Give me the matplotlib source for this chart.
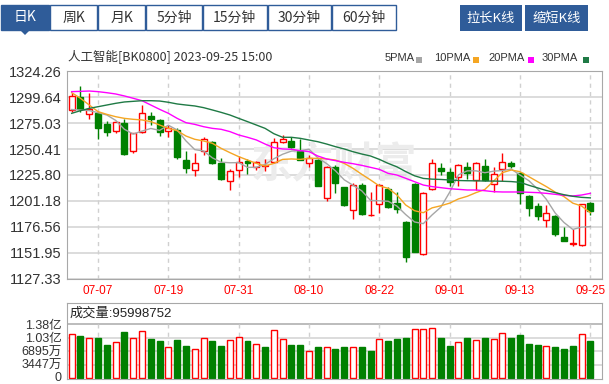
import matplotlib
matplotlib.use("Agg")
import matplotlib.pyplot as plt
import matplotlib.transforms as mtransforms
from matplotlib.patches import Rectangle, Polygon
import pandas as pd

plt.rcParams['font.family'] = ['Liberation Sans', 'Noto Sans CJK SC', 'DejaVu Sans']

# ---- data ----
dates = pd.bdate_range("2023-07-04", "2023-09-25").strftime("%m-%d").tolist()
tick_labels = ["07-07", "07-19", "07-31", "08-10", "08-22", "09-01", "09-13", "09-25"]

opens = [1287.6, 1300.2, 1283.8, 1284.4, 1273.9, 1267.9, 1274.9, 1248.2, 1266.9, 1281.9,
         1278.1, 1267.8, 1268.5, 1240.0, 1230.5, 1248.6, 1257.4, 1236.8, 1220.4, 1230.5,
         1238.6, 1233.0, 1234.6, 1238.4, 1256.8, 1258.1, 1248.6, 1237.5, 1240.0, 1203.6,
         1233.0, 1214.0, 1192.5, 1216.2, 1187.5, 1198.2, 1212.1, 1199.4, 1181.4, 1217.2,
         1150.3, 1212.1, 1232.4, 1228.9, 1223.5, 1233.0, 1221.0, 1234.3, 1217.2, 1231.1,
         1236.8, 1227.9, 1205.8, 1196.3, 1182.9, 1186.8, 1166.5, 1160.1, 1159.2, 1198.8]
highs = [1304.0, 1310.4, 1303.4, 1285.3, 1277.4, 1277.4, 1278.7, 1266.0, 1292.3, 1286.0,
         1278.7, 1273.0, 1270.1, 1248.9, 1247.0, 1261.6, 1258.4, 1241.6, 1231.1, 1243.8,
         1240.6, 1239.4, 1240.6, 1260.6, 1263.8, 1261.6, 1259.7, 1244.8, 1241.0, 1234.3,
         1235.3, 1214.3, 1217.8, 1218.5, 1209.9, 1217.2, 1214.7, 1209.9, 1181.6, 1217.8,
         1209.9, 1240.6, 1236.8, 1232.1, 1236.2, 1238.4, 1238.4, 1240.6, 1233.0, 1247.0,
         1239.1, 1228.9, 1206.7, 1199.4, 1197.2, 1187.7, 1176.6, 1174.1, 1198.2, 1200.4]
lows = [1286.0, 1286.0, 1279.0, 1259.7, 1263.2, 1265.4, 1244.8, 1246.3, 1266.0, 1273.3,
        1262.8, 1262.0, 1241.3, 1228.0, 1224.8, 1244.8, 1236.2, 1221.0, 1211.5, 1224.2,
        1226.7, 1230.5, 1229.9, 1237.5, 1255.9, 1251.7, 1240.0, 1233.7, 1215.0, 1201.3,
        1208.3, 1196.3, 1183.6, 1187.7, 1187.2, 1189.3, 1194.5, 1189.3, 1143.3, 1152.2,
        1150.0, 1211.5, 1225.8, 1215.3, 1215.3, 1221.6, 1211.5, 1220.4, 1209.9, 1220.4,
        1232.1, 1198.2, 1186.8, 1182.9, 1176.6, 1167.7, 1163.0, 1158.6, 1158.2, 1187.7]
closes = [1301.2, 1288.2, 1288.2, 1270.1, 1266.3, 1275.8, 1245.7, 1265.4, 1284.4, 1278.7,
          1266.9, 1270.0, 1242.6, 1232.7, 1237.5, 1260.3, 1237.5, 1221.6, 1229.9, 1238.4,
          1237.5, 1238.1, 1235.0, 1256.8, 1260.0, 1252.7, 1240.0, 1242.2, 1215.3, 1233.0,
          1218.5, 1196.9, 1216.2, 1188.7, 1187.9, 1216.2, 1195.0, 1193.1, 1148.1, 1152.9,
          1208.3, 1236.8, 1229.9, 1219.1, 1235.3, 1227.3, 1236.8, 1221.0, 1226.7, 1238.4,
          1234.3, 1208.3, 1194.1, 1186.8, 1189.3, 1169.6, 1163.3, 1160.8, 1197.9, 1191.8]

ma5 = [1288.0, 1287.5, 1287.0, 1285.0, 1282.8, 1277.7, 1269.2, 1264.7, 1267.5, 1270.0,
       1268.2, 1273.1, 1268.5, 1258.2, 1249.9, 1248.6, 1242.1, 1237.9, 1237.4, 1237.5,
       1233.0, 1233.1, 1235.8, 1241.2, 1245.5, 1248.5, 1248.9, 1250.3, 1242.0, 1236.6,
       1229.8, 1221.2, 1216.0, 1210.7, 1201.6, 1201.2, 1200.8, 1196.2, 1188.1, 1181.1,
       1179.5, 1187.8, 1195.2, 1209.4, 1225.9, 1229.7, 1229.7, 1227.9, 1229.4, 1230.0,
       1231.4, 1225.7, 1220.4, 1212.4, 1202.6, 1189.6, 1180.6, 1174.0, 1176.2, 1176.7]
ma10 = [1304.0, 1298.7, 1292.3, 1286.0, 1283.4, 1281.2, 1279.6, 1278.7, 1278.1, 1276.5,
        1273.3, 1270.1, 1267.9, 1262.8, 1259.7, 1258.1, 1255.9, 1251.1, 1247.0, 1243.2,
        1240.0, 1236.8, 1234.3, 1236.8, 1240.6, 1241.0, 1240.6, 1241.6, 1241.6, 1241.0,
        1240.0, 1236.8, 1232.1, 1226.4, 1221.0, 1215.3, 1213.1, 1206.7, 1197.2, 1191.8,
        1189.9, 1194.5, 1196.5, 1199.0, 1203.0, 1205.5, 1209.0, 1212.0, 1220.0, 1228.0,
        1230.5, 1228.9, 1224.2, 1219.4, 1214.7, 1209.5, 1205.2, 1199.0, 1196.3, 1189.9]
ma20 = [1305.0, 1305.3, 1305.6, 1305.0, 1304.0, 1302.8, 1300.9, 1298.7, 1296.4, 1292.3,
        1288.2, 1284.4, 1279.6, 1275.5, 1273.9, 1271.7, 1270.1, 1269.2, 1267.0, 1263.8,
        1261.6, 1259.1, 1255.2, 1251.7, 1250.5, 1250.2, 1248.9, 1248.0, 1243.8, 1241.0,
        1239.4, 1237.8, 1236.5, 1234.9, 1233.0, 1231.1, 1227.3, 1225.7, 1222.6, 1219.4,
        1216.2, 1214.7, 1213.7, 1212.7, 1212.1, 1211.5, 1211.5, 1210.8, 1209.9, 1209.6,
        1209.6, 1209.6, 1209.3, 1209.0, 1208.3, 1207.4, 1206.4, 1205.8, 1206.7, 1208.3]
ma30 = [1284.4, 1286.9, 1289.1, 1290.7, 1292.3, 1293.9, 1295.2, 1295.8, 1296.4, 1296.4,
        1296.1, 1294.9, 1293.3, 1292.3, 1291.4, 1289.8, 1287.6, 1285.3, 1282.8, 1279.6,
        1276.5, 1273.3, 1270.1, 1265.0, 1261.6, 1261.6, 1260.6, 1259.0, 1257.4, 1255.2,
        1252.7, 1250.5, 1247.9, 1245.7, 1243.8, 1240.6, 1236.8, 1233.5, 1229.0, 1225.0,
        1222.5, 1221.8, 1221.5, 1221.0, 1220.5, 1220.3, 1220.2, 1220.0, 1220.0, 1219.8,
        1219.5, 1218.8, 1216.0, 1213.5, 1211.0, 1209.0, 1207.0, 1205.5, 1204.5, 1204.0]

# volume in 万
volume = [11206, 10689, 10344, 10344, 8448, 9396, 11896, 10344, 12154, 9999,
          9482, 8103, 9827, 8189, 7586, 10344, 9482, 8189, 9827, 10603,
          9482, 8792, 7930, 12240, 10085, 8534, 8534, 7068, 7930, 7930,
          7586, 7930, 7930, 7930, 6982, 9999, 9482, 10085, 10344, 12499,
          12499, 12758, 10344, 8189, 9396, 10344, 9741, 10344, 10085, 11551,
          10344, 10947, 8792, 8448, 8189, 7930, 7586, 8189, 11206, 9599.8752]

price_ticks = [1127.33, 1151.95, 1176.56, 1201.18, 1225.80, 1250.41, 1275.03, 1299.64, 1324.26]
vol_ticks = [0, 3447, 6895, 10342, 13790]
vol_tick_labels = ["0", "3447万", "6895万", "1.03亿", "1.38亿"]

tabs = ["日K", "周K", "月K", "5分钟", "15分钟", "30分钟", "60分钟"]
buttons = ["拉长K线", "缩短K线"]
ma_names = ["5PMA", "10PMA", "20PMA", "30PMA"]

RED = "#ff0000"
GREEN = "#008000"
BLUE = "#2f5c99"
ma_colors = ["#a6a6a6", "#f5a623", "#ff00ff", "#1f7a45"]

W, H = 609, 384
fig = plt.figure(figsize=(W / 100, H / 100), dpi=100)

def px_axes(x0, y0, x1, y1):
    return fig.add_axes([x0 / W, 1 - y1 / H, (x1 - x0) / W, (y1 - y0) / H])

# ---- header (pixel coordinates) ----
top = fig.add_axes([0, 0, 1, 1])
top.set_xlim(0, W)
top.set_ylim(H, 0)
top.axis("off")

tab_edges = [0, 49.5, 97.9, 145.8, 202.7, 267, 331.5, 396.5]
for k, name in enumerate(tabs):
    x0, x1 = tab_edges[k], tab_edges[k + 1]
    sel = k == 0
    top.add_patch(Rectangle((x0 + 0.5, 4.5), x1 - x0 - 1, 25.5,
                            facecolor=BLUE if sel else "white", edgecolor=BLUE, lw=1))
    top.text((x0 + x1) / 2, 17.5, name, ha="center", va="center", fontsize=10,
             color="white" if sel else "#333333", family=["Noto Sans CJK SC"])
top.add_patch(Polygon([[20, 30], [30, 30], [25, 35]], closed=True, facecolor=BLUE, edgecolor="none"))

for (x0, x1), name in zip([(459.5, 521.5), (525, 588)], buttons):
    top.add_patch(Rectangle((x0, 5), x1 - x0, 26, facecolor=BLUE, edgecolor="none"))
    top.text((x0 + x1) / 2, 18, name, ha="center", va="center", fontsize=9.5,
             color="white", family=["Noto Sans CJK SC"])

top.text(68, 57, "人工智能[BK0800] 2023-09-25 15:00", ha="left", va="center",
         fontsize=9, color="#333333", family=["Noto Sans CJK SC"])
for name, c, tx, sx in zip(ma_names, ma_colors, [385, 434, 488, 542], [416, 473, 528, 583]):
    top.text(tx, 58, name, ha="left", va="center", fontsize=8, color="#333333")
    top.add_patch(Rectangle((sx, 57), 6, 6, facecolor=c, edgecolor="none"))

x = list(range(len(closes)))
tick_pos = [dates.index(d) for d in tick_labels]

# ---- candlestick panel ----
ax = px_axes(66.5, 71.4, 601.5, 278.5)
ax.set_xlim(-0.59, 60.27)
ax.set_ylim(price_ticks[0], price_ticks[-1])
for yv in price_ticks:
    ax.axhline(yv, color="#d9d9d9", lw=1.3, zorder=0)
for p in tick_pos:
    ax.axvline(p, color="#d0d0d0", lw=1, ls=(0, (3, 3)), zorder=0)

ax.text(0.5, 0.55, "东方财富", transform=ax.transAxes, ha="center", va="center",
        fontsize=30, color="#ececec", fontweight="bold", style="italic",
        family=["Noto Sans CJK SC"], zorder=0)

for i in x:
    o, h, l, c = opens[i], highs[i], lows[i], closes[i]
    up = c >= o
    col = RED if up else GREEN
    ax.vlines(i, l, h, color=col, lw=1, zorder=2)
    body = max(abs(c - o), 0.4)
    ax.add_patch(Rectangle((i - 0.34, min(o, c)), 0.68, body,
                           facecolor="white" if up else GREEN, edgecolor=col, lw=1, zorder=3))

for ma, c in zip([ma5, ma10, ma20, ma30], ma_colors):
    ax.plot(x, ma, color=c, lw=1, zorder=4)

ax.set_yticks(price_ticks, [f"{v:.2f}" for v in price_ticks])
ax.set_xticks(tick_pos, tick_labels)
ax.tick_params(axis="y", length=0, pad=3.5, labelsize=10.5, labelcolor="#333333")
ax.tick_params(axis="x", length=0, pad=5, labelsize=8.5, labelcolor=RED)
for s in ax.spines.values():
    s.set_color("#a8a8a8")

# ---- volume panel ----
vax = px_axes(66.5, 303, 601.5, 379)
vax.set_xlim(-0.59, 60.27)
vax.set_ylim(-179, 19230)
for yv in vol_ticks[1:-1]:
    vax.axhline(yv, color="#d9d9d9", lw=1.3, zorder=0)
vax.axhline(vol_ticks[-1], color="#b0b0b0", lw=1.2, zorder=0)
for p in tick_pos:
    vax.vlines(p, 0, vol_ticks[-1], color="#d0d0d0", lw=1, ls=(0, (3, 3)), zorder=0)

vol_up = [True] + [closes[i] >= closes[i - 1] for i in x[1:]]
vax.bar(x, volume, width=0.68,
        color=["white" if u else GREEN for u in vol_up],
        edgecolor=[RED if u else GREEN for u in vol_up], lw=1, zorder=2)

vax.text(0.006, 16500, "成交量:95998752", transform=vax.get_yaxis_transform(),
         ha="left", va="center", fontsize=9.5, color="#222222")
vax.set_yticks(vol_ticks, vol_tick_labels)
vax.set_xticks([])
vax.tick_params(axis="y", length=0, pad=3.5, labelsize=9, labelcolor="#333333")
# nudge the bottom "0" label up a little so it stays inside the figure
zero = vax.get_yticklabels()[0]
zero.set_transform(zero.get_transform() + mtransforms.ScaledTranslation(0, 1.0 / 72, fig.dpi_scale_trans))
for s in vax.spines.values():
    s.set_color("#a8a8a8")

fig.savefig("out.png", dpi=100)
